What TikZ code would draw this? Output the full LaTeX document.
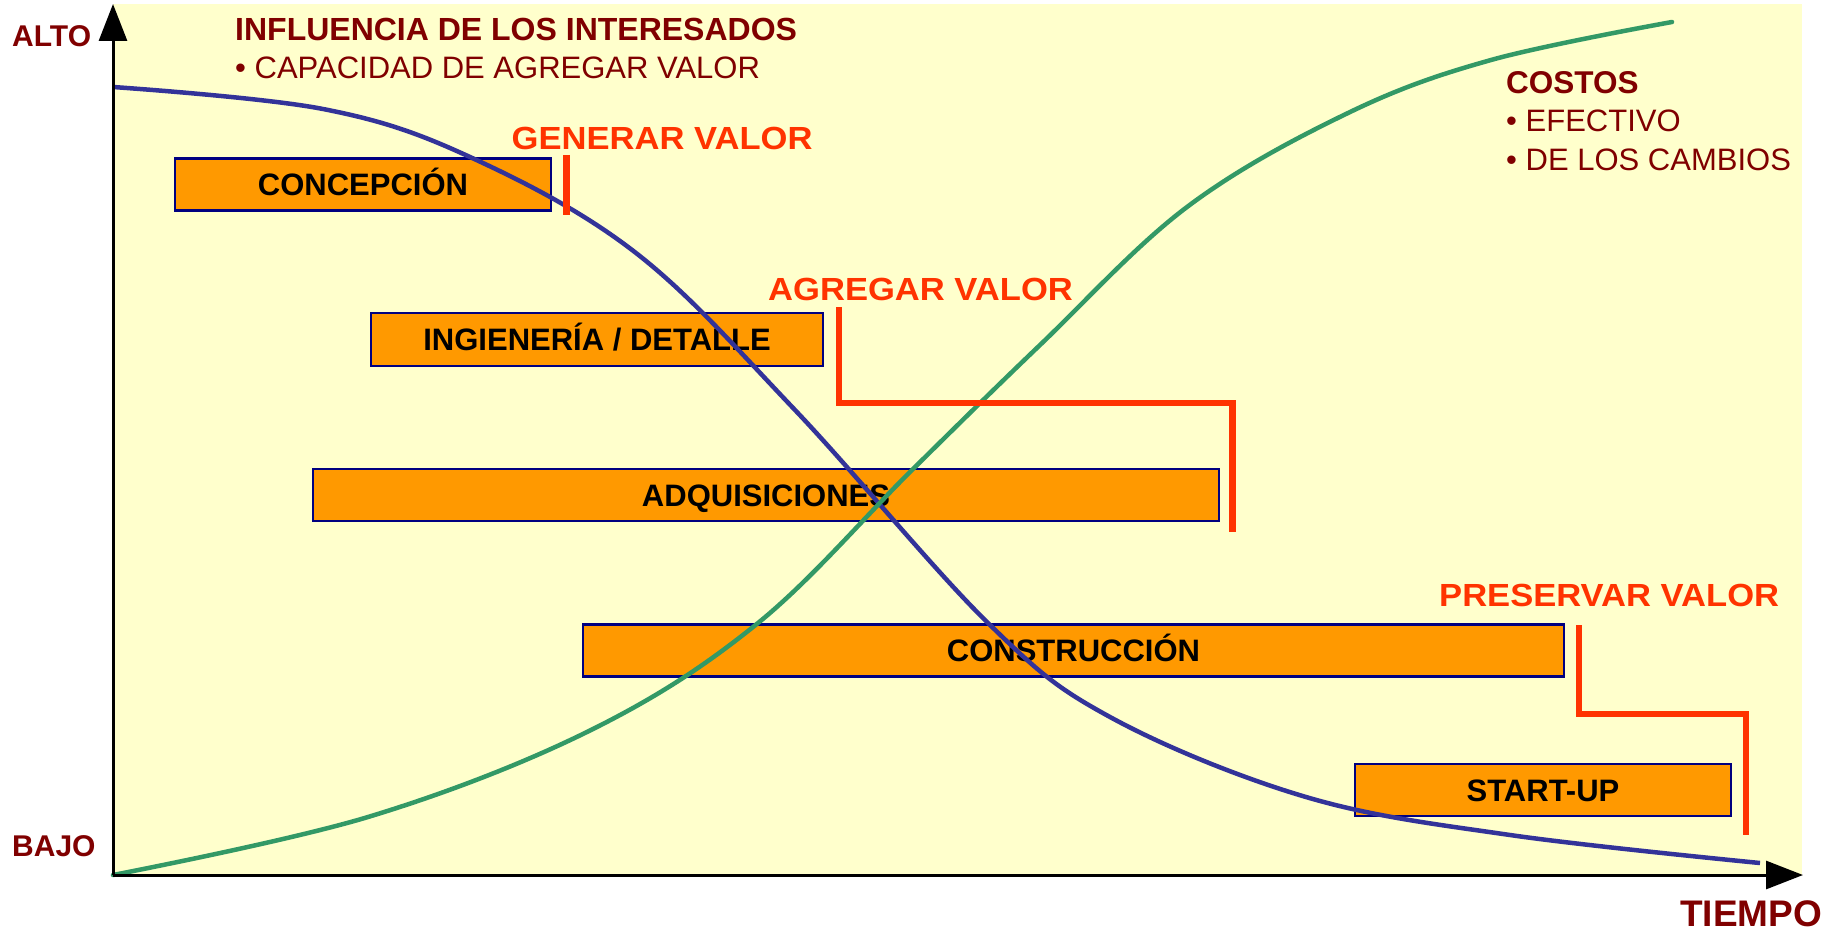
\documentclass[tikz,border=0pt]{standalone}
\usepackage{fontspec}
\setmainfont{Liberation Sans}
\newfontfamily\redfont[FakeStretch=1.08]{Liberation Sans}
\usetikzlibrary{arrows.meta}
\definecolor{bgyellow}{HTML}{FFFFCC}
\definecolor{boxorange}{HTML}{FF9900}
\definecolor{boxnavy}{HTML}{000080}
\definecolor{curveblue}{HTML}{333399}
\definecolor{curvegreen}{HTML}{339966}
\definecolor{valred}{HTML}{FF3300}
\definecolor{darkred}{HTML}{800000}
\tikzset{
  phasebox/.style={draw=boxnavy, fill=boxorange, line width=2.5pt, inner sep=0pt,
    text height=22.2pt, text depth=0pt, anchor=center,
    font=\fontsize{31}{37}\selectfont\bfseries},
  axtext/.style={anchor=base west, inner sep=0pt, text=darkred},
  redlabel/.style={anchor=base west, inner sep=0pt, text=valred,
    font=\redfont\fontsize{32}{38}\selectfont\bfseries},
  redline/.style={draw=valred, line width=6.5pt},
  axisline/.style={line width=3pt, -{Triangle[length=37pt,width=28pt]}},
  bluecurve/.style={draw=curveblue, line width=4.5pt},
  greencurve/.style={draw=curvegreen, line width=4.5pt, line cap=round},
}
\begin{document}
\begin{tikzpicture}[x=1pt, y=-1pt]
\useasboundingbox (0,0) rectangle (1835,933);
\fill[bgyellow] (113,4) rectangle (1802,875);

% phase boxes
\node[phasebox, minimum width=376pt, minimum height=52pt] (concepcion) at (363,184.5) {CONCEPCIÓN};
\node[phasebox, minimum width=452pt, minimum height=53pt] (ingenieria) at (597,339.5) {INGIENERÍA / DETALLE};
\node[phasebox, minimum width=906pt, minimum height=52pt] (adquisiciones) at (766,495) {ADQUISICIONES};
\node[phasebox, minimum width=981pt, minimum height=52pt] (construccion) at (1073.5,650.5) {CONSTRUCCIÓN};
\node[phasebox, minimum width=376pt, minimum height=52pt] (startup) at (1543,790) {START-UP};

% curves
\draw[bluecurve] plot[smooth, tension=0.6] coordinates {
 (113,87) (323,109) (470,157) (636,253) (795,410) (988,623)
 (1110,717) (1306,797) (1510,835) (1760,863)};
\draw[greencurve] plot[smooth, tension=0.6] coordinates {
 (113,875) (368,817) (591,730) (758,623) (912,470) (1040,345)
 (1187,207) (1348,113) (1491,60) (1672,22)};

% red value markers
\coordinate (g1) at (566.5,155);
\coordinate (g2) at (566.5,215);
\draw[redline] (g1) -- (g2);
\coordinate (a1) at (839,307);
\coordinate (a2) at (839,403);
\coordinate (a3) at (1232.5,403);
\coordinate (a4) at (1232.5,532);
\draw[redline] (a1) -- (a2) -- (a3) -- (a4);
\coordinate (p1) at (1579,625);
\coordinate (p2) at (1579,714);
\coordinate (p3) at (1746,714);
\coordinate (p4) at (1746,835);
\draw[redline] (p1) -- (p2) -- (p3) -- (p4);

\node[redlabel] (generar) at (511.5,149.3) {GENERAR VALOR};
\node[redlabel] (agregar) at (768,300.7) {AGREGAR VALOR};
\node[redlabel] (preservar) at (1439,606) {PRESERVAR VALOR};

% axes
\coordinate (origin) at (113,875);
\coordinate (ytop) at (113,4);
\coordinate (xend) at (1803,875);
\draw[axisline] (origin) -- (ytop);
\draw[axisline] (origin) -- (xend);

% axis and legend texts
\node[axtext, font=\fontsize{30}{36}\selectfont\bfseries] (alto) at (12,46.5) {ALTO};
\node[axtext, font=\fontsize{30}{36}\selectfont\bfseries] (bajo) at (12,856.5) {BAJO};
\node[axtext, font=\fontsize{37}{44}\selectfont\bfseries] (tiempo) at (1680,926.5) {TIEMPO};
\node[axtext, font=\fontsize{32}{38}\selectfont\bfseries] (influencia) at (235,40.7) {INFLUENCIA DE LOS INTERESADOS};
\node[axtext, font=\fontsize{31}{37}\selectfont] (capacidad) at (235,78.3) {• CAPACIDAD DE AGREGAR VALOR};
\node[axtext, font=\fontsize{31.5}{38}\selectfont\bfseries] (costos) at (1506,93.3) {COSTOS};
\node[axtext, font=\fontsize{31}{37}\selectfont] (efectivo) at (1506,131.7) {• EFECTIVO};
\node[axtext, font=\fontsize{31}{37}\selectfont] (cambios) at (1506,170.7) {• DE LOS CAMBIOS};
\end{tikzpicture}
\end{document}
